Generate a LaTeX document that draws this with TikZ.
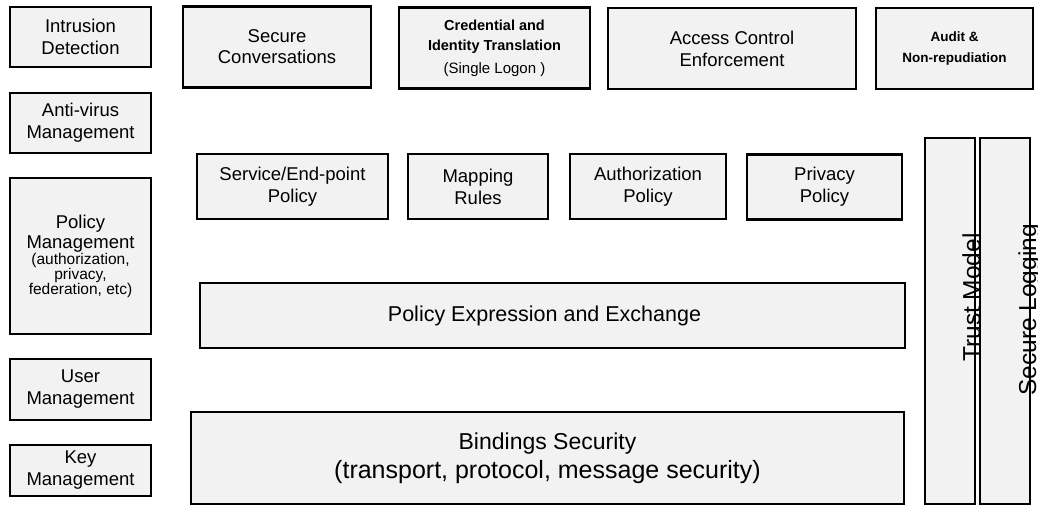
\documentclass[tikz,border=0pt]{standalone}
\usepackage{fontspec}
\setmainfont{Liberation Sans}
\definecolor{boxgray}{HTML}{F2F2F2}
\newcommand{\fsz}[2]{\fontsize{#1}{#2}\selectfont}
\begin{document}
\begin{tikzpicture}[x=1pt,y=-1pt,
    box/.style={draw, line width=2.4pt, fill=boxgray, align=center, inner sep=0pt, font=\fsz{18.5}{22}},
    side/.style={box, minimum width=141pt},
    top/.style={box, minimum height=81pt},
    pol/.style={box, minimum height=65pt},
    bar/.style={box, minimum width=50pt, minimum height=366pt},
    vtext/.style={rotate=90, anchor=base, inner sep=0pt, font=\fsz{24.5}{29}}]
    \useasboundingbox (0,0) rectangle (1038,506);
    \node[side, minimum height=60pt] (intr) at (80.5,37) {Intrusion\\Detection};
    \node[side, minimum height=60pt] (anti) at (80.5,123) {Anti-virus\\Management};
    \node[side, minimum height=156pt] (polm) at (80.5,256) {Policy\\[-2pt]Management\\[-6pt]\fsz{15.5}{16}(authorization,\\[-7pt]\fsz{15.5}{16}privacy,\\[-7pt]\fsz{15.5}{16}federation, etc)};
    \node[side, minimum height=61pt] (user) at (80.5,389.5) {User\\Management};
    \node[side, minimum height=51pt] (key) at (80.5,470.5) {Key\\Management};
    \node[top, minimum width=188pt] (conv) at (277,47) {Secure\\[-1pt]Conversations};
    \node[top, minimum width=191pt, font=\fsz{14.5}{20}] (cred) at (494.5,48) {\textbf{Credential and}\\\textbf{Identity Translation}\\[3pt]\fsz{15}{18}(Single Logon )};
    \node[top, minimum width=248pt] (acc) at (732,48.5) {Access Control\\Enforcement};
    \node[top, minimum width=157pt, font=\fsz{13.5}{21}\bfseries] (audit) at (954.5,48.5) {Audit \&\\Non-repudiation};
    \node[pol, minimum width=191pt] (svc) at (292.5,186.5) {Service/End-point\\Policy};
    \node[pol, minimum width=140pt] (map) at (478,186.5) {Mapping\\Rules};
    \node[pol, minimum width=156pt] (auth) at (648,186.5) {Authorization\\Policy};
    \node[pol, minimum width=155pt] (priv) at (824.5,187) {Privacy\\Policy};
    \node[box, minimum width=705pt, minimum height=65pt, font=\fsz{21.5}{25}] (pex) at (552.5,315.5) {Policy Expression and Exchange\hspace*{16pt}};
    \node[box, minimum width=713pt, minimum height=92pt, font=\fsz{23}{29}] (bind) at (547.5,458) {Bindings Security\\\fsz{25}{29}(transport, protocol, message security)};
    \node[bar] (tm) at (950,321) {};
    \node[bar] (sl) at (1005,321) {};
    \node[vtext] (tmtext) at (980,297.5) {Trust Model};
    \node[vtext] (sltext) at (1036,310) {Secure Logging};
\end{tikzpicture}
\end{document}
